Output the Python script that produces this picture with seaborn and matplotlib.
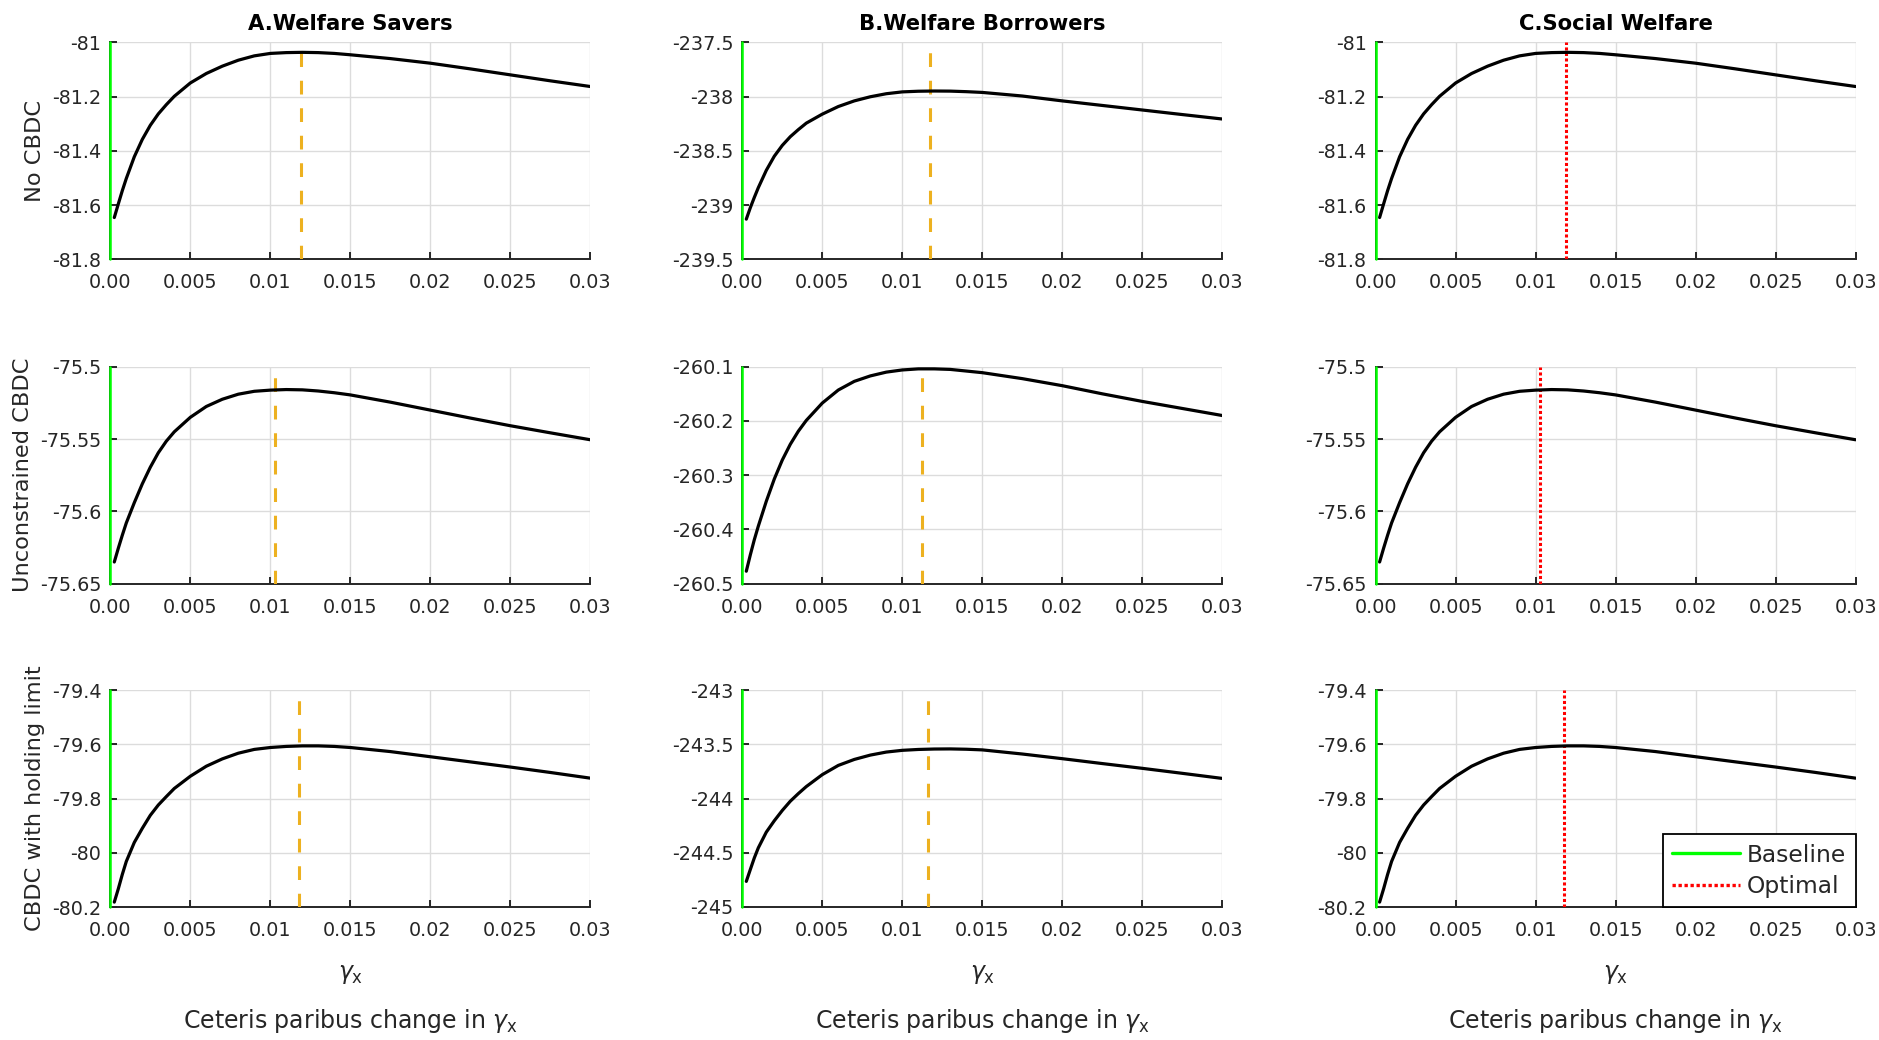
import matplotlib
matplotlib.use("Agg")
import matplotlib.pyplot as plt
import seaborn as sns
import pandas as pd

# ---------------- data ----------------
gamma_x = [0.00025, 0.0005, 0.00075, 0.001, 0.0015, 0.002, 0.0025, 0.003, 0.0035,
           0.004, 0.005, 0.006, 0.007, 0.008, 0.009, 0.010, 0.011, 0.012, 0.013,
           0.014, 0.015, 0.0175, 0.02, 0.0225, 0.025, 0.0275, 0.03]

savers_no_cbdc = [-81.646, -81.596, -81.547, -81.502, -81.422, -81.358, -81.306, -81.264, -81.230,
                  -81.199, -81.150, -81.115, -81.088, -81.066, -81.050, -81.041, -81.038, -81.037, -81.038,
                  -81.041, -81.046, -81.060, -81.077, -81.098, -81.120, -81.142, -81.163]
savers_unconstrained = [-75.635, -75.6255, -75.6165, -75.608, -75.594, -75.581, -75.5695, -75.5595, -75.5515,
                        -75.545, -75.535, -75.5275, -75.5225, -75.519, -75.517, -75.5162, -75.5158, -75.516, -75.5168,
                        -75.518, -75.5195, -75.5245, -75.530, -75.5355, -75.5408, -75.5457, -75.5505]
savers_limit = [-80.182, -80.133, -80.080, -80.032, -79.962, -79.910, -79.862, -79.824, -79.793,
                -79.763, -79.718, -79.681, -79.654, -79.633, -79.619, -79.612, -79.608, -79.606, -79.606,
                -79.608, -79.612, -79.627, -79.646, -79.665, -79.684, -79.704, -79.725]

borrowers_no_cbdc = [-239.13, -239.025, -238.93, -238.84, -238.68, -238.55, -238.45, -238.37, -238.305,
                     -238.245, -238.162, -238.092, -238.040, -238.002, -237.974, -237.957, -237.951, -237.949, -237.950,
                     -237.955, -237.962, -237.995, -238.040, -238.082, -238.124, -238.166, -238.207]
borrowers_unconstrained = [-260.477, -260.447, -260.419, -260.394, -260.348, -260.307, -260.272, -260.243, -260.219,
                           -260.199, -260.167, -260.143, -260.127, -260.117, -260.110, -260.106, -260.104, -260.104, -260.105,
                           -260.108, -260.111, -260.122, -260.135, -260.150, -260.164, -260.177, -260.190]
borrowers_limit = [-244.764, -244.655, -244.548, -244.455, -244.31, -244.205, -244.11, -244.025, -243.955,
                   -243.89, -243.78, -243.695, -243.640, -243.600, -243.572, -243.556, -243.548, -243.544, -243.543,
                   -243.546, -243.552, -243.590, -243.633, -243.678, -243.722, -243.768, -243.815]

social_no_cbdc = [-81.646, -81.596, -81.547, -81.502, -81.422, -81.358, -81.306, -81.264, -81.230,
                  -81.199, -81.150, -81.115, -81.088, -81.066, -81.050, -81.041, -81.038, -81.037, -81.038,
                  -81.041, -81.046, -81.060, -81.077, -81.098, -81.120, -81.142, -81.163]
social_unconstrained = [-75.635, -75.6255, -75.6165, -75.608, -75.594, -75.581, -75.5695, -75.5595, -75.5515,
                        -75.545, -75.535, -75.5275, -75.5225, -75.519, -75.517, -75.5162, -75.5158, -75.516, -75.5168,
                        -75.518, -75.5195, -75.5245, -75.530, -75.5355, -75.5408, -75.5457, -75.5505]
social_limit = [-80.182, -80.133, -80.080, -80.032, -79.962, -79.910, -79.862, -79.824, -79.793,
                -79.763, -79.718, -79.681, -79.654, -79.633, -79.619, -79.612, -79.608, -79.606, -79.606,
                -79.608, -79.612, -79.627, -79.646, -79.665, -79.684, -79.704, -79.725]

optimal_savers = [0.0119, 0.0103, 0.0118]
optimal_borrowers = [0.0117, 0.0112, 0.0116]
optimal_social = [0.0119, 0.0103, 0.0118]
baseline_gamma = 0.0

col_titles = ["A.Welfare Savers", "B.Welfare Borrowers", "C.Social Welfare"]
row_labels = ["No CBDC", "Unconstrained CBDC", "CBDC with holding limit"]
legend_labels = ["Baseline", "Optimal"]

x_ticks = [0, 0.005, 0.01, 0.015, 0.02, 0.025, 0.03]
x_tick_labels = ["0.00", "0.005", "0.01", "0.015", "0.02", "0.025", "0.03"]

savers_yticks = [[-81.8, -81.6, -81.4, -81.2, -81.0],
                 [-75.65, -75.6, -75.55, -75.5],
                 [-80.2, -80.0, -79.8, -79.6, -79.4]]
savers_ytick_labels = [["-81.8", "-81.6", "-81.4", "-81.2", "-81"],
                       ["-75.65", "-75.6", "-75.55", "-75.5"],
                       ["-80.2", "-80", "-79.8", "-79.6", "-79.4"]]
borrowers_yticks = [[-239.5, -239.0, -238.5, -238.0, -237.5],
                    [-260.5, -260.4, -260.3, -260.2, -260.1],
                    [-245.0, -244.5, -244.0, -243.5, -243.0]]
borrowers_ytick_labels = [["-239.5", "-239", "-238.5", "-238", "-237.5"],
                          ["-260.5", "-260.4", "-260.3", "-260.2", "-260.1"],
                          ["-245", "-244.5", "-244", "-243.5", "-243"]]

series = [[savers_no_cbdc, savers_unconstrained, savers_limit],
          [borrowers_no_cbdc, borrowers_unconstrained, borrowers_limit],
          [social_no_cbdc, social_unconstrained, social_limit]]
optimal = [optimal_savers, optimal_borrowers, optimal_social]
yticks = [savers_yticks, borrowers_yticks, savers_yticks]
ytick_labels = [savers_ytick_labels, borrowers_ytick_labels, savers_ytick_labels]

# ---------------- styling ----------------
sns.set_style("white")
plt.rcParams['font.family'] = ['DejaVu Sans']
plt.rcParams['mathtext.fontset'] = 'dejavusans'

W, H = 1879, 1040
fig = plt.figure(figsize=(W / 100, H / 100), dpi=100)

col_left_px = [110.3, 742.3, 1375.6]
row_top_px = [42.3, 366.7, 690.0]
ylabel_x = [-0.137, -0.160, -0.137]
aw, ah = 480, 217
axis_col = '#262626'

for c in range(3):
    for r in range(3):
        ax = fig.add_axes([col_left_px[c] / W, 1 - (row_top_px[r] + ah) / H, aw / W, ah / H])
        df = pd.DataFrame({'gamma': gamma_x, 'welfare': series[c][r]})
        sns.lineplot(data=df, x='gamma', y='welfare', ax=ax, color='black',
                     linewidth=2.3, zorder=4)
        base = ax.axvline(baseline_gamma, color='#00ff00', lw=1.8, zorder=6, clip_on=False)
        if c < 2:
            opt = ax.axvline(optimal[c][r], color='#EDB120', lw=2.2, dashes=(4.5, 4.5), zorder=3)
        else:
            opt = ax.axvline(optimal[c][r], color='#FF0000', lw=2.2, linestyle=(0, (1, 0.8)), zorder=3)
        yt = yticks[c][r]
        ax.set_xlim(0, 0.03)
        ax.set_ylim(yt[0], yt[-1])
        ax.set_xticks(x_ticks)
        ax.set_xticklabels(x_tick_labels)
        ax.set_yticks(yt)
        ax.set_yticklabels(ytick_labels[c][r])
        ax.grid(True, color='#dcdcdc', lw=1.0)
        ax.set_axisbelow(True)
        for s in ['top', 'right']:
            ax.spines[s].set_visible(False)
        for s in ['bottom', 'left']:
            ax.spines[s].set_color(axis_col)
            ax.spines[s].set_linewidth(1.4)
        ax.tick_params(axis='both', direction='in', length=5, width=1.4, color=axis_col,
                       labelcolor=axis_col, labelsize=13.8, bottom=True, left=True)
        ax.tick_params(axis='x', pad=10)
        ax.tick_params(axis='y', pad=6.5)
        ax.set_xlabel('')
        ax.set_ylabel('')
        if r == 0:
            ax.set_title(col_titles[c], fontsize=15.2, fontweight='bold', pad=9, color='black')
        if c == 0:
            ax.set_ylabel(row_labels[r], fontsize=16.2, color=axis_col)
            ax.yaxis.set_label_coords(ylabel_x[r], 0.5)
        if r == 2:
            ax.text(0.5, -0.31, r'$\gamma_{\mathrm{x}}$', transform=ax.transAxes,
                    ha='center', va='center', fontsize=17, color=axis_col)
            ax.text(0.5, -0.525, r'Ceteris paribus change in $\gamma_{\mathrm{x}}$', transform=ax.transAxes,
                    ha='center', va='center', fontsize=17, color=axis_col)
        if r == 2 and c == 2:
            leg = ax.legend(handles=[base, opt], labels=legend_labels, loc='lower right',
                            borderaxespad=0, fancybox=False, edgecolor='black', framealpha=1,
                            fontsize=16.8, handlelength=2.9, handletextpad=0.3,
                            labelspacing=0.35, borderpad=0.4)
            leg.get_frame().set_linewidth(1.3)
            leg.set_zorder(10)
            for h in leg.get_lines():
                h.set_linewidth(2.4)

fig.savefig('out.png', dpi=100)
